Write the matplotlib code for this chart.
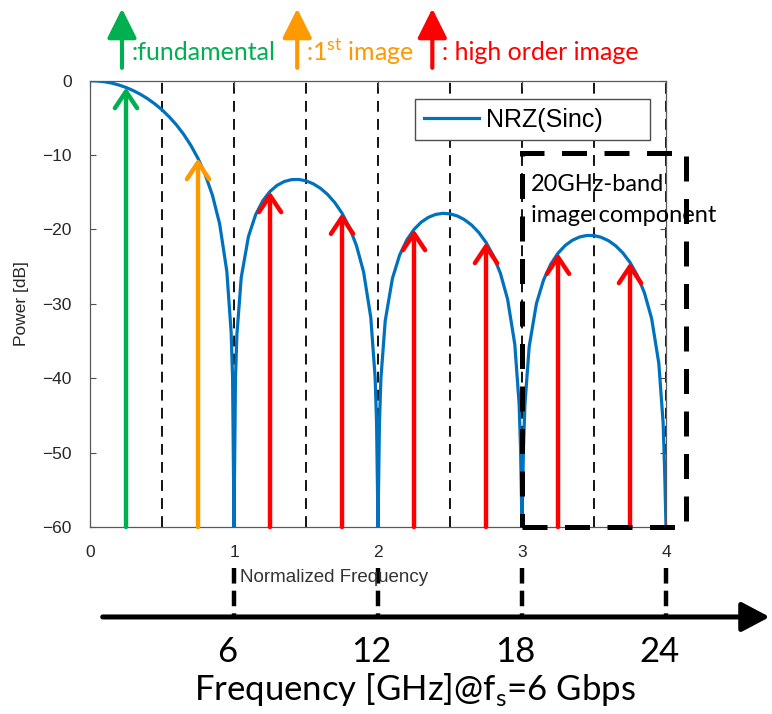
import matplotlib
matplotlib.use("Agg")
import matplotlib.pyplot as plt
import matplotlib.transforms as mtransforms
from matplotlib.patches import Rectangle, FancyArrowPatch

plt.rcParams['font.family'] = ['Liberation Sans', 'DejaVu Sans']
plt.rcParams['mathtext.fontset'] = 'custom'
plt.rcParams['mathtext.rm'] = 'Lato'

# NRZ spectrum (sinc) in dB vs normalized frequency
norm_freq = [0, 0.05, 0.1, 0.15, 0.2, 0.25, 0.3, 0.35, 0.4, 0.45, 0.5, 0.55, 0.6, 0.65, 0.7,
             0.75, 0.8, 0.85, 0.9, 0.95, 0.98, 0.99, 1.0, 1.01, 1.02, 1.05, 1.1, 1.15, 1.2,
             1.25, 1.3, 1.35, 1.4, 1.45, 1.5, 1.55, 1.6, 1.65, 1.7, 1.75, 1.8, 1.85, 1.9,
             1.95, 1.98, 1.99, 2.0, 2.01, 2.02, 2.05, 2.1, 2.15, 2.2, 2.25, 2.3, 2.35, 2.4,
             2.45, 2.5, 2.55, 2.6, 2.65, 2.7, 2.75, 2.8, 2.85, 2.9, 2.95, 2.98, 2.99, 3.0,
             3.01, 3.02, 3.05, 3.1, 3.15, 3.2, 3.25, 3.3, 3.35, 3.4, 3.45, 3.5, 3.55, 3.6,
             3.65, 3.7, 3.75, 3.8, 3.85, 3.9, 3.95, 3.98, 3.99, 4.0]
power_db = [0.0, -0.04, -0.14, -0.32, -0.58, -0.91, -1.33, -1.83, -2.42, -3.12, -3.92, -4.86,
            -5.94, -7.20, -8.69, -10.45, -12.62, -15.39, -19.23, -25.61, -33.81, -39.91, -60,
            -40.09, -34.16, -26.48, -20.97, -18.02, -16.14, -14.89, -14.06, -13.55, -13.30,
            -13.28, -13.46, -13.86, -14.46, -15.30, -16.39, -17.81, -19.66, -22.15, -25.72,
            -31.86, -39.92, -45.98, -60, -46.07, -40.09, -32.29, -26.59, -23.45, -21.41,
            -20.00, -19.02, -18.37, -17.98, -17.83, -17.90, -18.18, -18.68, -19.41, -20.41,
            -21.74, -23.50, -25.90, -29.39, -35.45, -43.47, -49.52, -60, -49.57, -43.59,
            -35.74, -29.97, -26.77, -24.66, -23.19, -22.15, -21.45, -21.01, -20.81, -20.82,
            -21.06, -21.50, -22.19, -23.15, -24.43, -26.15, -28.51, -31.96, -37.99, -45.98,
            -52.02, -60]

# tone components (fundamental, 1st image, higher order images)
tone_freq = [0.25, 0.75, 1.25, 1.75, 2.25, 2.75, 3.25, 3.75]
tone_db = [-0.91, -10.45, -14.89, -17.81, -20.00, -21.74, -23.19, -24.43]
tone_color = ['#00B050', '#FF9900', '#FF0000', '#FF0000', '#FF0000', '#FF0000', '#FF0000', '#FF0000']

grid_freq = [0.5, 1.0, 1.5, 2.0, 2.5, 3.0, 3.5, 4.0]
x_ticks = [0, 1, 2, 3, 4]
y_ticks = [0, -10, -20, -30, -40, -50, -60]

fs_gbps = 6
ghz_ticks = [6, 12, 18, 24]

key_labels = [':fundamental', ':1$^{\\mathrm{st}}$ image', ': high order image']
key_colors = ['#00B050', '#FF9900', '#FF0000']
key_x = [0.158, 0.385, 0.560]

fig = plt.figure(figsize=(7.72, 7.14), dpi=100)
ax = fig.add_axes([0.1166, 0.2619, 0.7461, 0.6251])

ax.vlines(grid_freq, -60, 0, colors='k', linestyles=(0, (6, 4)), lw=1.3, zorder=1)
ax.plot(norm_freq, power_db, color='#0072BD', lw=2.3, label='NRZ(Sinc)', zorder=3)

for f, p, c in zip(tone_freq, tone_db, tone_color):
    ax.annotate('', xy=(f, p), xytext=(f, -60),
                arrowprops=dict(arrowstyle='->,head_length=0.6,head_width=0.4', color=c,
                                lw=3.2, shrinkA=0, shrinkB=0, mutation_scale=20), zorder=4)

ax.set_xlim(0, 4)
ax.set_ylim(-60, 0)
ax.set_xticks(x_ticks)
ax.set_yticks(y_ticks)
ax.tick_params(direction='in', top=True, right=True, length=4, width=0.8,
               color='0.3', labelcolor='#262626', labelsize=12.5, pad=13)
for s in ax.spines.values():
    s.set_color('0.35')
    s.set_linewidth(0.9)

leg = ax.legend(loc='upper left', bbox_to_anchor=(0.564, 0.856, 0.408, 0.103), mode='expand',
                borderaxespad=0, fancybox=False, edgecolor='0.3', framealpha=1,
                fontsize=18, handlelength=2.2, handletextpad=0.3, borderpad=0.35)
leg.get_frame().set_linewidth(1.0)

# dashed box around the 20GHz-band components
ax.add_patch(Rectangle((3.0, -60), 1.14, 50.3, fill=False, ec='k', lw=3.6,
                       ls=(0, (5, 3.5)), clip_on=False, zorder=5))
ax.text(3.06, -12.6, '20GHz-band\nimage component', family='Lato', fontsize=17,
        va='top', ha='left', linespacing=1.55, zorder=6)

fig.text(0.311, 0.1905, 'Normalized Frequency', fontsize=13.5, color='#333333', va='center')
fig.text(0.028, 0.575, 'Power [dB]', fontsize=12.5, color='#262626', rotation=90,
         va='center', ha='center')

# key at top
for x, lab, c in zip(key_x, key_labels, key_colors):
    fig.add_artist(FancyArrowPatch(
        (x, 0.905), (x, 0.988), transform=fig.transFigure,
        arrowstyle='-|>,head_length=0.9,head_width=0.45', mutation_scale=20,
        color=c, lw=3, shrinkA=0, shrinkB=0))
    fig.text(x + 0.012, 0.927, lab, color=c, family='Lato', fontsize=18, va='center')

# GHz scale underneath
trans = mtransforms.blended_transform_factory(ax.transData, fig.transFigure)
ax.annotate('', xy=(0.997, 0.1359), xytext=(0.133, 0.1359), xycoords='figure fraction',
            arrowprops=dict(arrowstyle='-|>,head_length=0.85,head_width=0.45', lw=3.6,
                            color='k', mutation_scale=20, shrinkA=0, shrinkB=0),
            annotation_clip=False)
label_trans = mtransforms.offset_copy(trans, fig=fig, x=-7, y=0, units='dots')
for g in ghz_ticks:
    ax.plot([g / fs_gbps, g / fs_gbps], [0.2045, 0.1359], transform=trans, color='k',
            lw=3.2, ls=(0, (3.5, 1.6)), clip_on=False)
    ax.text(g / fs_gbps, 0.0868, str(g), transform=label_trans, family='Lato',
            fontsize=25, ha='center', va='center')

fig.text(0.537, 0.034, 'Frequency [GHz]@f$_\\mathrm{s}$=6 Gbps', family='Lato',
         fontsize=25, ha='center', va='center')

fig.savefig('out.png', dpi=100)
